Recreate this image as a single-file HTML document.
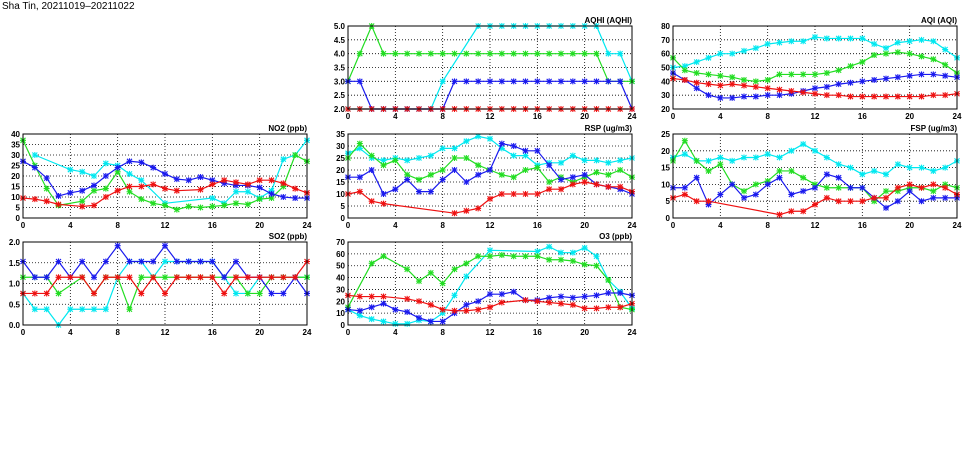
<!DOCTYPE html>
<html><head><meta charset="utf-8"><style>
body{margin:0;background:#fff;width:975px;height:447px;overflow:hidden}
svg text{font-family:"Liberation Sans",sans-serif;font-size:8px;font-weight:bold;fill:#000}
</style></head><body>
<svg id="c" width="975" height="447" xmlns="http://www.w3.org/2000/svg">
<text x="2" y="9" style="font-size:10px;font-weight:normal">Sha Tin, 20211019–20211022</text>
</svg>
<script>
const hours=[0,1,2,3,4,5,6,7,8,9,10,11,12,13,14,15,16,17,18,19,20,21,22,23,24];
const xTicks=[0,4,8,12,16,20,24];
const N=null;
const aqhiCyan=[2,2,2,2,2,2,2,2,3,N,N,5,5,5,5,5,5,5,5,5,5,5,4,4,3];
const aqhiGreen=[3,4,5,4,4,4,4,4,4,4,4,4,4,4,4,4,4,4,4,4,4,4,3,3,3];
const aqhiBlue=[3,3,2,2,2,2,2,2,2,3,3,3,3,3,3,3,3,3,3,3,3,3,3,3,2];
const aqhiRed=[2,2,2,2,2,2,2,2,2,2,2,2,2,2,2,2,2,2,2,2,2,2,2,2,2];
const aqhiTicks=[2.0,2.5,3.0,3.5,4.0,4.5,5.0];
const aqiCyan=[50,51,54,57,60,60,62,64,67,68,69,69,72,71,71,71,71,67,64,68,69,70,69,63,57];
const aqiGreen=[57,48,46,45,44,43,41,40,41,45,45,45,45,46,48,51,54,59,60,61,60,58,56,52,46];
const aqiBlue=[46,41,35,30,28,28,29,29,30,30,31,33,35,36,38,39,40,41,42,43,44,45,45,44,43];
const aqiRed=[42,41,39,38,37,38,37,36,35,34,33,32,31,30,30,29,29,29,29,29,29,29,30,30,31];
const aqiTicks=[20,30,40,50,60,70,80];
const no2Cyan=[N,30,N,N,23,22,20,26,25,21,18,N,7,N,N,N,9.5,7,12.5,12.5,9.5,13,28,30,37];
const no2Green=[37,25,14,6,N,8,13,14,22,12.5,9,7,6,4,5.5,5,5.5,6,7,6.5,9,9.5,15,30,27];
const no2Blue=[27,24,19,10.5,12,13,15.5,20,24,27,26.5,24,21,18.5,18,19.5,18,16.5,15.5,15.5,14.5,11.5,10,9.5,9.5];
const no2Red=[9.5,9,8,6.5,N,5.5,6,10,13,15,15,16,14,13,N,13.5,16,18,17,16,18,18,16.5,14,12];
const no2Ticks=[0,5,10,15,20,25,30,35,40];
const rspCyan=[27,29,25,24,25,24,25,26,29,29,32,34,33,29,26,26,22,23,23,26,24,24,23,24,25];
const rspGreen=[25,31,26,22,24,18,16,18,20,25,25,22,20,18,17,20,21,15,17,15,17,19,18,20,17];
const rspBlue=[17,17,20,10,12,16,11,11,16,20,15,18,20,31,30,28,28,22,16,17,18,14,13,12,10];
const rspRed=[10,11,7,6,N,N,N,N,N,2,3,4,8,10,10,10,10,12,12,14,15,14,13,13,11];
const rspTicks=[0,5,10,15,20,25,30,35];
const fspCyan=[18,19,17,17,18,17,18,18,19,18,20,22,20,18,16,15,13,14,13,16,15,15,14,15,17];
const fspGreen=[17,23,17,14,16,10,8,10,11,14,14,12,10,9,9,9,9,5,8,8,9,9,8,10,9];
const fspBlue=[9,9,12,4,7,10,6,7,10,12,7,8,9,13,12,9,9,6,3,5,8,5,6,6,6];
const fspRed=[6,7,5,5,N,N,N,N,N,1,2,2,4,6,5,5,5,6,6,9,10,9,10,9,7];
const fspTicks=[0,5,10,15,20,25];
const so2Cyan=[0.76,0.38,0.38,0,0.38,0.38,0.38,0.38,1.15,1.53,1.53,1.15,1.53,1.53,1.53,1.53,1.53,1.15,0.76,0.76,1.15,1.15,1.15,1.15,1.15];
const so2Green=[1.15,1.15,1.15,0.76,N,1.15,0.76,1.15,1.15,0.38,1.15,1.15,1.15,1.15,1.15,1.15,1.15,1.15,1.15,0.76,0.76,1.15,1.15,1.15,1.15];
const so2Blue=[1.53,1.15,1.15,1.53,1.15,1.53,1.15,1.53,1.91,1.53,1.53,1.53,1.91,1.53,1.53,1.53,1.53,1.15,1.53,1.15,1.15,0.76,0.76,1.15,0.76];
const so2Red=[0.76,0.76,0.76,1.15,1.15,1.15,0.76,1.15,1.15,1.15,0.76,1.15,0.76,1.15,1.15,1.15,1.15,0.76,1.15,1.15,1.15,1.15,1.15,1.15,1.53];
const so2Ticks=[0.0,0.5,1.0,1.5,2.0];
const o3Cyan=[13,8,5,3,1,1,4,3,10,25,41,N,63,N,N,N,62,66,61,61,65,58,38,28,14];
const o3Green=[15,N,52,58,N,47,37,44,35,47,52,58,58,59,58,58,58,55,55,54,51,50,38,15,13];
const o3Blue=[13,12,15,18,13,11,6,3,3,10,17,20,26,26,28,21,21,23,24,23,24,25,27,27,25];
const o3Red=[25,24,24,24,N,22,20,17,13,12,12,13,15,19,N,21,20,19,18,17,14,14,15,15,18];
const o3Ticks=[0,10,20,30,40,50,60,70];

const svg=document.getElementById('c');
const NS='http://www.w3.org/2000/svg';
function mk(tag,attrs,parent){const e=document.createElementNS(NS,tag);for(const k in attrs)e.setAttribute(k,attrs[k]);(parent||svg).appendChild(e);return e;}
const COLORS={cyan:'#00e8f0',green:'#22dd22',blue:'#1a1aee',red:'#ee1111'};
function panel(name,title,L,T,R,B,ticks,series,fmt){
  const g=mk('g',{});
  
  
  const ymin=ticks[0],ymax=ticks[ticks.length-1];
  const xs=h=>L+(R-L)*h/24;
  const ys=v=>B-(B-T)*(v-ymin)/(ymax-ymin);
  for(const t of ticks){
    const y=ys(t);
    if(t!==ymin&&t!==ymax){const gl=mk('line',{x1:L,x2:R,y1:y,y2:y,stroke:'#000','stroke-width':0.8,'stroke-dasharray':'1,2'},g);
    }
    const tl=mk('text',{x:L-3,y:y+3,'text-anchor':'end'},g);tl.textContent=fmt(t);
    
  }
  for(const t of xTicks){
    const x=xs(t);
    if(t!==0&&t!==24){const gl=mk('line',{x1:x,x2:x,y1:T,y2:B,stroke:'#000','stroke-width':0.8,'stroke-dasharray':'1,2'},g);
    }
    const tl=mk('text',{x:x,y:B+10,'text-anchor':'middle'},g);tl.textContent=t;
    
  }
  for(const [col,vals] of series){
    const pts=[];vals.forEach((v,i)=>{if(v!==null)pts.push([xs(hours[i]),ys(v)]);});
    const pl=mk('polyline',{points:pts.map(p=>p.join(',')).join(' '),fill:'none',stroke:COLORS[col],'stroke-width':1.2},g);
    
    
    for(const [x,y] of pts){
      const m=mk('path',{d:`M${x-2.5},${y-2.5}L${x+2.5},${y+2.5}M${x-2.5},${y+2.5}L${x+2.5},${y-2.5}M${x-3},${y}L${x+3},${y}M${x},${y-3}L${x},${y+3}`,stroke:COLORS[col],'stroke-width':1.1},g);
      
      
    }
  }
  const fr=mk('rect',{x:L,y:T,width:R-L,height:B-T,fill:'none',stroke:'#000','stroke-width':1},g);
  
  const tt=mk('text',{x:R,y:T-3,'text-anchor':'end'},g);tt.textContent=title;
  
}
const f1=v=>v.toFixed(1), f0=v=>String(v);
panel('aqhi','AQHI (AQHI)',348,26,632,109,aqhiTicks,[['cyan',aqhiCyan],['green',aqhiGreen],['blue',aqhiBlue],['red',aqhiRed]],f1);
panel('aqi','AQI (AQI)',673,26,957,109,aqiTicks,[['cyan',aqiCyan],['green',aqiGreen],['blue',aqiBlue],['red',aqiRed]],f0);
panel('no2','NO2 (ppb)',23,134,307,218,no2Ticks,[['cyan',no2Cyan],['green',no2Green],['blue',no2Blue],['red',no2Red]],f0);
panel('rsp','RSP (ug/m3)',348,134,632,218,rspTicks,[['cyan',rspCyan],['green',rspGreen],['blue',rspBlue],['red',rspRed]],f0);
panel('fsp','FSP (ug/m3)',673,134,957,218,fspTicks,[['cyan',fspCyan],['green',fspGreen],['blue',fspBlue],['red',fspRed]],f0);
panel('so2','SO2 (ppb)',23,242,307,325,so2Ticks,[['cyan',so2Cyan],['green',so2Green],['blue',so2Blue],['red',so2Red]],f1);
panel('o3','O3 (ppb)',348,242,632,325,o3Ticks,[['cyan',o3Cyan],['green',o3Green],['blue',o3Blue],['red',o3Red]],f0);
</script>
</body></html>
